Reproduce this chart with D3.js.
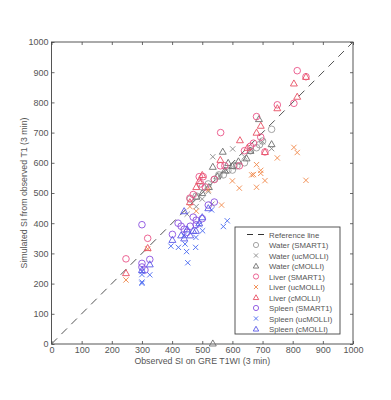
<!DOCTYPE html>
<html><head><meta charset="utf-8">
<script src="https://cdn.jsdelivr.net/npm/d3@7"></script>
<style>body{margin:0;background:#fff}text{font-family:"Liberation Sans",Arial,sans-serif}</style>
</head><body><svg id="c" width="391" height="400"></svg>
<script>
const xTicks=[0,100,200,300,400,500,600,700,800,900,1000];
const yTicks=[0,100,200,300,400,500,600,700,800,900,1000];
const waterSMART1=[[460,480],[480,490],[500,520],[520,530],[540,545],[555,560],[570,560],[585,575],[600,576],[605,590],[615,590],[640,600],[660,640],[680,650],[700,672],[730,711],[690,660]];
const waterUcMOLLI=[[450,430],[480,455],[532,463],[535,620],[560,560],[580,575],[601,646],[640,620],[660,640],[700,670],[730,647],[520,505],[500,480]];
const waterCMOLLI=[[481,488],[500,500],[522,520],[535,587],[550,555],[568,637],[575,575],[586,600],[600,590],[620,605],[647,615],[660,640],[688,745],[730,662],[535,2]];
const liverSMART1=[[247,282],[319,350],[459,483],[470,495],[490,554],[503,554],[495,530],[510,520],[540,545],[561,700],[560,590],[575,590],[623,590],[640,640],[660,655],[670,665],[694,685],[680,753],[749,792],[804,797],[815,905],[844,885],[708,636]];
const liverUcMOLLI=[[247,212],[319,315],[459,455],[480,440],[520,510],[564,460],[600,540],[623,516],[664,560],[670,561],[680,594],[680,519],[694,575],[694,565],[708,541],[749,616],[804,651],[815,634],[844,542]];
const liverCMOLLI=[[247,235],[319,318],[459,470],[480,520],[490,540],[500,560],[560,610],[625,675],[650,650],[680,700],[694,723],[708,636],[749,781],[804,863],[815,819],[844,885]];
const spleenSMART1=[[300,395],[300,267],[300,255],[326,280],[310,245],[401,363],[420,400],[430,390],[440,380],[450,370],[460,390],[470,420],[480,410],[500,415],[520,460],[540,470],[480,395]];
const spleenUcMOLLI=[[300,201],[300,205],[300,230],[300,240],[326,229],[396,324],[421,320],[443,331],[448,306],[452,269],[478,320],[479,353],[501,375],[490,395],[531,444],[570,389],[583,408],[440,360]];
const spleenCMOLLI=[[300,245],[326,264],[401,345],[430,360],[440,350],[450,380],[460,360],[470,375],[479,375],[490,400],[500,420],[520,450],[440,440]];
const seriesNames=["Water (SMART1)","Water (ucMOLLI)","Water (cMOLLI)","Liver (SMART1)","Liver (ucMOLLI)","Liver (cMOLLI)","Spleen (SMART1)","Spleen (ucMOLLI)","Spleen (cMOLLI)"];
const seriesData=[waterSMART1,waterUcMOLLI,waterCMOLLI,liverSMART1,liverUcMOLLI,liverCMOLLI,spleenSMART1,spleenUcMOLLI,spleenCMOLLI];
const seriesColors=["#9a9a9a","#8a8a8a","#6e6e6e","#ea5488","#f0884a","#e85064","#8a50e0","#4a6af0","#5a58e6"];
const seriesShapes=["circle","x","triangle","circle","x","triangle","circle","x","triangle"];

const svg=d3.select("#c");
const L=51.5,R=353,T=42,B=344;
const x=d3.scaleLinear().domain([0,1000]).range([L,R]);
const y=d3.scaleLinear().domain([0,1000]).range([B,T]);
const axCol="#444", txtCol="#555";
function ax(g,fn,showLabels){
  g.call(fn).call(s=>s.select(".domain").remove());
  g.selectAll(".tick line").attr("stroke",axCol).attr("stroke-width",0.8);
  g.selectAll(".tick text").attr("fill",txtCol).style("font-size","9px");
  if(!showLabels) g.selectAll(".tick text").remove();
}
ax(svg.append("g").attr("transform",`translate(0,${B})`),d3.axisBottom(x).tickValues(xTicks).tickFormat(d3.format("d")).tickSizeInner(-3).tickSizeOuter(0).tickPadding(3),true);
ax(svg.append("g").attr("transform",`translate(0,${T})`),d3.axisTop(x).tickValues(xTicks).tickSizeInner(-3).tickSizeOuter(0),false);
ax(svg.append("g").attr("transform",`translate(${L},0)`),d3.axisLeft(y).tickValues(yTicks).tickFormat(d3.format("d")).tickSizeInner(-3).tickSizeOuter(0).tickPadding(3),true);
ax(svg.append("g").attr("transform",`translate(${R},0)`),d3.axisRight(y).tickValues(yTicks).tickSizeInner(-3).tickSizeOuter(0),false);
svg.append("rect").attr("x",L).attr("y",T).attr("width",R-L).attr("height",B-T).attr("fill","none").attr("stroke",axCol).attr("stroke-width",0.9);

// reference line
svg.append("line").attr("x1",x(0)).attr("y1",y(0)).attr("x2",x(1000)).attr("y2",y(1000))
  .attr("stroke","#555").attr("stroke-width",1).attr("stroke-dasharray","8,6");

function marker(g,shape,col,cx,cy,s){
  s=s||3.3;
  if(shape==="circle") g.append("circle").attr("cx",cx).attr("cy",cy).attr("r",s).attr("fill","none").attr("stroke",col).attr("stroke-width",0.9);
  else if(shape==="x"){const a=s*0.8;g.append("path").attr("d",`M${cx-a},${cy-a}L${cx+a},${cy+a}M${cx-a},${cy+a}L${cx+a},${cy-a}`).attr("stroke",col).attr("stroke-width",0.9).attr("fill","none");}
  else {const a=s*1.05;g.append("path").attr("d",`M${cx},${cy-a}L${cx+a},${cy+a*0.75}L${cx-a},${cy+a*0.75}Z`).attr("stroke",col).attr("stroke-width",0.9).attr("fill","none");}
}
const pts=svg.append("g");
seriesData.forEach((data,i)=>{
  data.forEach(d=>marker(pts,seriesShapes[i],seriesColors[i],x(d[0]),y(d[1])));
});

// labels
svg.append("text").attr("x",(L+R)/2).attr("y",364).attr("text-anchor","middle").attr("fill",txtCol).style("font-size","8.8px").text("Observed SI on GRE T1WI (3 min)");
svg.append("text").attr("transform",`translate(27,${(T+B)/2}) rotate(-90)`).attr("text-anchor","middle").attr("fill",txtCol).style("font-size","8.8px").text("Simulated SI from observed T1 (3 min)");

// legend
const lg=svg.append("g");
const lx=235, ly=227, lw=105, lh=107, rowH=10.5;
lg.append("rect").attr("x",lx).attr("y",ly).attr("width",lw).attr("height",lh).attr("fill","#fff").attr("stroke",axCol).attr("stroke-width",0.9);
const ry0=ly+7.5;
lg.append("line").attr("x1",lx+12).attr("x2",lx+29).attr("y1",ry0).attr("y2",ry0).attr("stroke","#333").attr("stroke-width",1).attr("stroke-dasharray","6,5");
lg.append("text").attr("x",lx+34).attr("y",ry0+3).attr("fill",txtCol).style("font-size","7.8px").text("Reference line");
seriesNames.forEach((n,i)=>{
  const yy=ry0+rowH*(i+1);
  marker(lg,seriesShapes[i],seriesColors[i],lx+21,yy,2.6);
  lg.append("text").attr("x",lx+34).attr("y",yy+3).attr("fill",txtCol).style("font-size","7.8px").text(n);
});
</script></body></html>
